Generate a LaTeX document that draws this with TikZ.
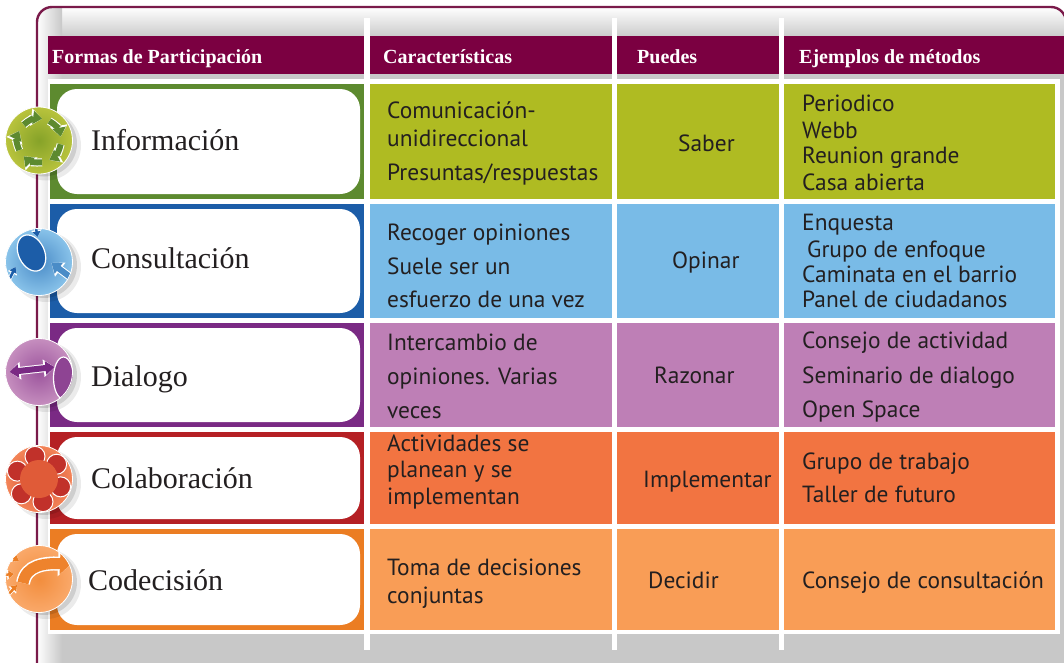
\documentclass[tikz,border=0pt]{standalone}
\usepackage{fontspec}
\setmainfont{Liberation Serif}
\newfontfamily\sansf{PT Sans}
\usetikzlibrary{arrows.meta}

\definecolor{frameC}{HTML}{7A1A4A}
\definecolor{headC}{HTML}{7B0041}
\definecolor{shadeC}{HTML}{C8C8C8}
\definecolor{txtC}{HTML}{231F20}
\definecolor{infoD}{HTML}{5D8A2F}
\definecolor{infoL}{HTML}{AFBB22}
\definecolor{consD}{HTML}{1C5DA8}
\definecolor{consL}{HTML}{79BBE7}
\definecolor{dialD}{HTML}{7A2A84}
\definecolor{dialL}{HTML}{BE7FB6}
\definecolor{colaD}{HTML}{B52024}
\definecolor{colaL}{HTML}{F27441}
\definecolor{codeD}{HTML}{EB7D23}
\definecolor{codeL}{HTML}{F99D56}

\tikzset{
  ht/.tip={Triangle[length=11pt, width=17pt]},
  ct/.tip={Triangle[length=9pt, width=13pt]},
  hs/.tip={Triangle[length=7pt, width=10pt]},
  cs/.tip={Triangle[length=5.5pt, width=7.5pt]},
  halo/.style={white, line width=8pt, -ht},
  core/.style={line width=6pt, -ct},
  halos/.style={white, line width=4pt, -hs},
  cores/.style={line width=2.5pt, -cs},
  head/.style={anchor=base west, inner sep=0pt, text=white, font=\fontsize{20}{24}\selectfont\bfseries},
  form/.style={anchor=base west, inner sep=0pt, text=txtC, font=\fontsize{30}{34}\selectfont},
  cell/.style={anchor=base west, inner sep=0pt, text=txtC, font=\sansf\fontsize{23.4}{26}\selectfont},
}

\begin{document}
\begin{tikzpicture}[x=1pt, y=-1pt]
\useasboundingbox (0,0) rectangle (1064,662);

% frame and its grey inside
\begin{scope}
  \clip[rounded corners=15pt] (37,7) rectangle (1066,680);
  \fill[shadeC] (37,7) rectangle (1066,680);
  \shade[top color=white, bottom color=shadeC] (37,7) rectangle (1066,38);
  \shade[left color=white, right color=shadeC] (37,7) rectangle (62,680);
\end{scope}
\draw[frameC, line width=2.4pt, rounded corners=15pt] (37,7) rectangle (1066,680);

% header and table
\fill[headC] (48,36) rectangle (1064,74);
\fill[white] (48,79) rectangle (1060,634);
\foreach \xa/\xb in {364/370, 612/617, 779/784}
  \fill[white] (\xa,18) rectangle (\xb,650);

\foreach \t/\b/\d/\l in {84/199/infoD/infoL, 204/318/consD/consL, 323/427/dialD/dialL, 432/524/colaD/colaL, 529/630/codeD/codeL} {
  \fill[\d] (50,\t) rectangle (364,\b);
  \fill[white, rounded corners=20pt] (57,\t+5) rectangle (360,\b-5);
  \fill[\l] (370,\t) rectangle (612,\b);
  \fill[\l] (617,\t) rectangle (779,\b);
  \fill[\l] (784,\t) rectangle (1055,\b);
}

\node[head] (hForm) at (52,63) {Formas de Participación};
\node[head] (hCar) at (383,63) {Características};
\node[head] (hPue) at (637,63) {Puedes};
\node[head] (hEje) at (799,63) {Ejemplos de métodos};

\foreach \tx/\ty/\txt in {91/150/Información, 91/268/Consultación, 91/386/Dialogo, 91/488/Colaboración, 88/590/Codecisión}
  \node[form] (form\ty) at (\tx,\ty) {\txt};

\foreach \ty/\txt in {118/Comunicación-, 146/unidireccional, 180/{Presuntas/respuestas}, 240/Recoger opiniones, 274/Suele ser un, 307/esfuerzo de una vez, 350/Intercambio de, 384/opiniones. Varias, 418/veces, 451/Actividades se, 477/planean y se, 504/implementan, 575/Toma de decisiones, 603/conjuntas}
  \node[cell] (car\ty) at (387,\ty) {\txt};

\foreach \tx/\ty/\txt in {678/151/Saber, 672/268/Opinar, 654/383/Razonar, 643/487/Implementar, 648/588/Decidir}
  \node[cell] (pue\ty) at (\tx,\ty) {\txt};

\foreach \ty/\txt in {111/Periodico, 138/Webb, 163/Reunion grande, 190/Casa abierta, 230/Enquesta, 282/Caminata en el barrio, 307/Panel de ciudadanos, 348/Consejo de actividad, 383/Seminario de dialogo, 417/Open Space, 469/Grupo de trabajo, 502/Taller de futuro, 588/Consejo de consultación}
  \node[cell] (eje\ty) at (802,\ty) {\txt};
\node[cell] (eje257) at (807,257) {Grupo de enfoque};

% balls
\foreach \by/\bd/\bl in {140.5/infoD/infoL, 262/consD/consL, 372/dialD/dialL, 479/colaD/colaL, 579/codeD/codeL} {
  \fill[black, opacity=.08] (46,\by+5) circle (35);
  \fill[black, opacity=.12] (44,\by+3) circle (33);
  \shade[inner color=\bl!50!\bd, outer color=\bl!88!white] (39,\by) circle (33.5);
}

\begin{scope}[shift={(39,140.5)}]
  \clip (0,0) circle (33.5);
  \foreach \a in {10,82,...,298} {
    \draw[halo] (\a:22) arc[start angle=\a, end angle=\a+52, radius=22];
    \draw[core, infoD] (\a:22) arc[start angle=\a, end angle=\a+52, radius=22];
  }
\end{scope}

\begin{scope}[shift={(39.5,262)}]
  \clip (0,0) circle (33.5);
  \filldraw[consD, draw=white, line width=1.2pt, rotate around={25:(-8,-9)}] (-8,-9) ellipse [x radius=13, y radius=19];
  \draw[halo] (36,19) -- (12,1);
  \draw[core, consL!50!consD] (36,19) -- (12,1);
  \draw[halos] (-4,-37) -- (-2,-25);
  \draw[cores, consD] (-4,-37) -- (-2,-25);
  \draw[halos] (-31,19) -- (-24,5);
  \draw[cores, consD] (-31,19) -- (-24,5);
\end{scope}

\begin{scope}[shift={(39.5,372)}]
  \clip (0,0) circle (33.5);
  \filldraw[dialD!70!dialL, draw=white, line width=1.2pt] (24,6) ellipse [x radius=10, y radius=21];
  \draw[halo, ht-ht] (-30,0) -- (15,-5);
  \draw[core, ct-ct, dialD] (-30,0) -- (15,-5);
\end{scope}

\begin{scope}[shift={(39,479)}]
  \clip (0,0) circle (33.5);
  \foreach \a in {0,60,...,300}
    \filldraw[colaD!80!colaL, draw=white, line width=1pt] (\a+20:23) circle (10);
  \fill[colaL!70!colaD] (0,0) circle (19);
\end{scope}

\begin{scope}[shift={(39,579)}]
  \clip (0,0) circle (33.5);
  \draw[white, line width=14pt, -{Triangle[length=13pt, width=25pt]}] (-16,4) .. controls (-13,-14) and (6,-16) .. (32,-15);
  \draw[codeD!80!codeL, line width=11pt, -{Triangle[length=11pt, width=21pt]}] (-16,4) .. controls (-13,-14) and (6,-16) .. (32,-15);
  \foreach \sx/\sy/\ex/\ey in {-34/-26/-20/-18, -37/-4/-25/-5, -32/17/-22/6} {
    \draw[halos] (\sx,\sy) -- (\ex,\ey);
    \draw[cores, codeD] (\sx,\sy) -- (\ex,\ey);
  }
\end{scope}

\foreach \by in {140.5, 262, 372, 479, 579}
  \draw[white, line width=.8pt] (39,\by) circle (33.5);
\end{tikzpicture}
\end{document}
